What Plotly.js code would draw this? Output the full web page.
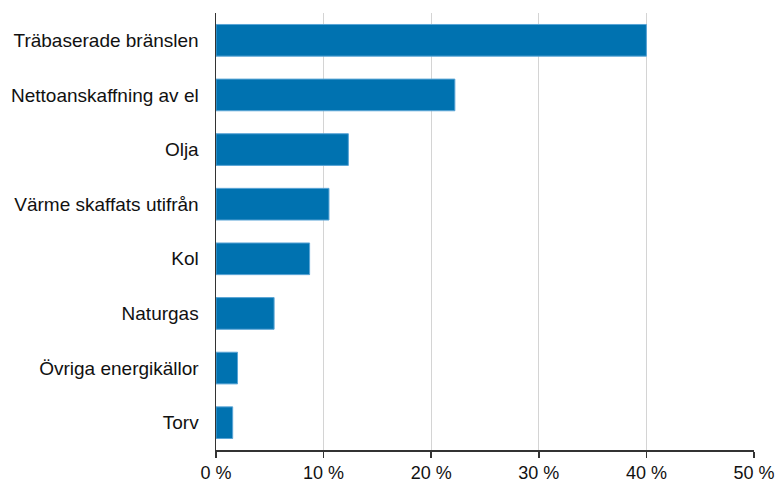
<!DOCTYPE html>
<html><head><meta charset="utf-8">
<script src="https://cdn.plot.ly/plotly-3.0.1.min.js"></script>
<style>html,body{margin:0;padding:0;background:#fff}</style>
</head><body><div id="chart" style="width:780px;height:484px"></div>
<script>
const categories = ["Träbaserade bränslen","Nettoanskaffning av el","Olja","Värme skaffats utifrån","Kol","Naturgas","Övriga energikällor","Torv"];
const values = [40.0, 22.2, 12.3, 10.5, 8.7, 5.4, 2.0, 1.55];
const tickVals = [0,10,20,30,40,50];
const tickText = ["0 %","10 %","20 %","30 %","40 %","50 %"];

Plotly.newPlot('chart', [{
  type: 'bar', orientation: 'h',
  x: values, y: categories,
  marker: {color: '#0072B0', line: {color: '#5AA5D6', width: 1}},
  hoverinfo: 'none'
}], {
  width: 780, height: 484,
  margin: {l: 216, r: 26, t: 13, b: 34, pad: 0},
  paper_bgcolor: '#fff', plot_bgcolor: '#fff',
  font: {family: 'Liberation Sans, Arial, sans-serif', size: 18, color: '#000'},
  bargap: 0.42,
  showlegend: false,
  xaxis: {range: [0, 50], tickvals: tickVals, ticktext: tickText,
    showgrid: true, gridcolor: '#d4d4d4', gridwidth: 1,
    zeroline: false, showline: true, linecolor: '#333', linewidth: 1.5,
    ticks: 'outside', ticklen: 6, tickcolor: '#333', tickwidth: 1.5,
    tickfont: {size: 18, color: '#111'}, fixedrange: true},
  yaxis: {autorange: 'reversed', showline: true, linecolor: '#333', linewidth: 1.5,
    showgrid: false, zeroline: false, ticks: '', ticklabelstandoff: 12,
    tickfont: {size: 19, color: '#111'}, fixedrange: true}
}, {displayModeBar: false, staticPlot: true});
</script></body></html>
